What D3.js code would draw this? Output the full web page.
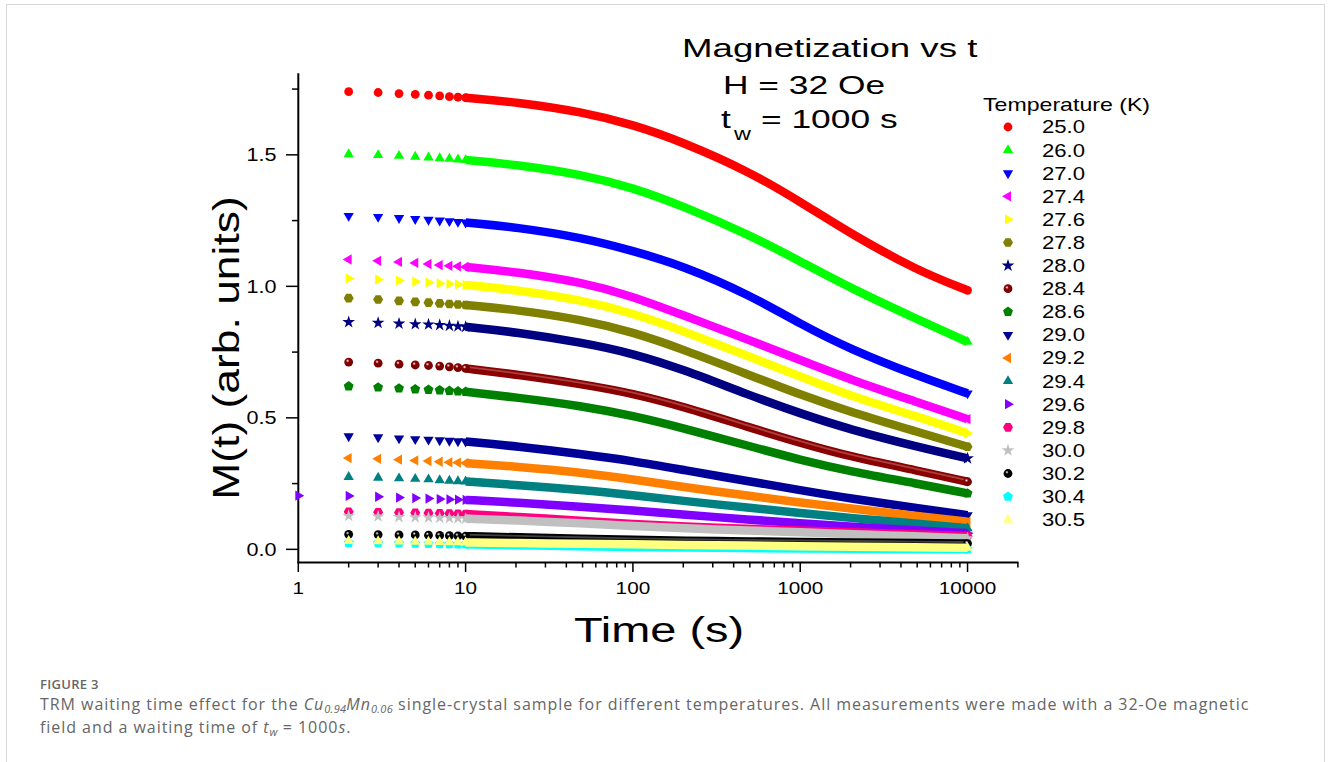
<!DOCTYPE html>
<html>
<head>
<meta charset="utf-8">
<script src="https://cdn.jsdelivr.net/npm/d3@7"></script>
<style>
  body { margin: 0; background: #fff; }
  #wrap { position: relative; width: 1330px; height: 762px; overflow: hidden; }
  #cap { position: absolute; left: 40px; top: 675px; font-family: "Open Sans", sans-serif; color: #666; }
  #cap .fig { font-size: 13px; font-weight: 600; letter-spacing: 0.3px; line-height: 18px; }
  #cap .txt { font-size: 16px; line-height: 23px; letter-spacing: 0.95px; }
  #cap sub { font-size: 11px; vertical-align: -3px; line-height: 0; letter-spacing: 0.3px; }
</style>
</head>
<body>
<div id="wrap">
  <svg id="chart" width="1330" height="762"></svg>
  <div id="cap">
    <div class="fig">FIGURE 3</div>
    <div class="txt">TRM waiting time effect for the <i>Cu<sub>0.94</sub>Mn<sub>0.06</sub></i> single-crystal sample for different temperatures. All measurements were made with a 32-Oe magnetic<br>field and a waiting time of <i>t<sub>w</sub></i> = 1000<i>s</i>.</div>
  </div>
</div>
<script>
// time points (s)
const times = [1, 2, 3, 4, 5, 6, 7, 8, 9, 10, 20, 50, 100, 200, 500, 1000, 2000, 5000, 10000];

const temps = ["25.0", "26.0", "27.0", "27.4", "27.6", "27.8", "28.0", "28.4", "28.6",
               "29.0", "29.2", "29.4", "29.6", "29.8", "30.0", "30.2", "30.4", "30.5"];

// M(t) in arb. units, one array per temperature
const m25_0 = [null, 1.740, 1.737, 1.733, 1.730, 1.727, 1.724, 1.721, 1.719, 1.717, 1.701, 1.663, 1.615, 1.548, 1.435, 1.322, 1.200, 1.060, 0.985];
const m26_0 = [null, 1.502, 1.499, 1.496, 1.493, 1.490, 1.487, 1.485, 1.482, 1.480, 1.463, 1.425, 1.375, 1.305, 1.195, 1.095, 0.993, 0.875, 0.789];
const m27_0 = [null, 1.268, 1.264, 1.260, 1.256, 1.253, 1.250, 1.248, 1.245, 1.243, 1.225, 1.185, 1.135, 1.078, 0.967, 0.857, 0.760, 0.660, 0.593];
const m27_4 = [null, 1.102, 1.097, 1.093, 1.089, 1.085, 1.081, 1.078, 1.076, 1.074, 1.055, 1.015, 0.962, 0.890, 0.795, 0.720, 0.645, 0.560, 0.495];
const m27_6 = [null, 1.030, 1.026, 1.022, 1.018, 1.015, 1.011, 1.009, 1.007, 1.005, 0.987, 0.947, 0.898, 0.830, 0.732, 0.657, 0.583, 0.505, 0.441];
const m27_8 = [null, 0.955, 0.950, 0.945, 0.941, 0.938, 0.935, 0.933, 0.931, 0.929, 0.911, 0.873, 0.826, 0.760, 0.662, 0.588, 0.522, 0.447, 0.390];
const m28_0 = [null, 0.864, 0.861, 0.858, 0.856, 0.855, 0.853, 0.850, 0.848, 0.846, 0.826, 0.786, 0.745, 0.684, 0.585, 0.517, 0.455, 0.390, 0.346];
const m28_4 = [null, 0.712, 0.708, 0.704, 0.701, 0.699, 0.697, 0.694, 0.691, 0.688, 0.665, 0.628, 0.593, 0.543, 0.463, 0.405, 0.352, 0.300, 0.257];
const m28_6 = [null, 0.620, 0.616, 0.612, 0.609, 0.607, 0.605, 0.603, 0.601, 0.599, 0.578, 0.545, 0.508, 0.461, 0.392, 0.340, 0.296, 0.250, 0.213];
const m29_0 = [null, 0.430, 0.426, 0.422, 0.419, 0.417, 0.415, 0.413, 0.411, 0.410, 0.392, 0.362, 0.336, 0.302, 0.258, 0.225, 0.193, 0.157, 0.130];
const m29_2 = [null, 0.347, 0.344, 0.341, 0.338, 0.336, 0.333, 0.331, 0.330, 0.328, 0.315, 0.292, 0.266, 0.237, 0.203, 0.178, 0.155, 0.127, 0.105];
const m29_4 = [null, 0.275, 0.272, 0.270, 0.268, 0.266, 0.263, 0.261, 0.259, 0.258, 0.245, 0.226, 0.206, 0.184, 0.158, 0.138, 0.119, 0.098, 0.080];
const m29_6 = [0.204, 0.203, 0.200, 0.197, 0.195, 0.193, 0.191, 0.190, 0.189, 0.188, 0.178, 0.162, 0.148, 0.132, 0.113, 0.099, 0.086, 0.072, 0.061];
const m29_8 = [null, 0.143, 0.141, 0.140, 0.139, 0.138, 0.137, 0.136, 0.135, 0.134, 0.124, 0.108, 0.096, 0.087, 0.078, 0.072, 0.065, 0.058, 0.050];
const m30_0 = [null, 0.127, 0.125, 0.123, 0.122, 0.121, 0.120, 0.119, 0.118, 0.117, 0.110, 0.099, 0.088, 0.080, 0.071, 0.065, 0.058, 0.050, 0.042];
const m30_2 = [null, 0.057, 0.056, 0.055, 0.055, 0.054, 0.053, 0.052, 0.051, 0.050, 0.046, 0.040, 0.036, 0.033, 0.030, 0.028, 0.026, 0.024, 0.022];
const m30_4 = [null, 0.025, 0.024, 0.023, 0.022, 0.021, 0.020, 0.020, 0.019, 0.019, 0.016, 0.012, 0.009, 0.007, 0.005, 0.003, 0.002, 0.001, 0.000];
const m30_5 = [null, 0.032, 0.031, 0.030, 0.029, 0.029, 0.028, 0.027, 0.027, 0.026, 0.024, 0.021, 0.019, 0.017, 0.014, 0.012, 0.010, 0.008, 0.006];

const yTicks = [0, 0.5, 1.0, 1.5];
const xTicks = [1, 10, 100, 1000, 10000];

// styles
const colors = ["#ff0000", "#00ff00", "#0000ff", "#ff00ff", "#ffff00", "#808000", "#000080", "#8b0000", "#008000",
                "#000099", "#ff8000", "#008080", "#8000ff", "#ff0080", "#c0c0c0", "#000000", "#00ffff", "#ffff80"];
const shapes = ["circle", "up", "down", "left", "right", "hexagon", "star", "sphere", "pentagon",
                "down", "left", "up", "right", "hexagon", "star", "sphere", "pentagon", "up"];

const allValues = [m25_0, m26_0, m27_0, m27_4, m27_6, m27_8, m28_0, m28_4, m28_6,
                   m29_0, m29_2, m29_4, m29_6, m29_8, m30_0, m30_2, m30_4, m30_5];

const series = temps.map((T, i) => ({
    T: T,
    color: colors[i],
    shape: shapes[i],
    points: times.map((t, j) => ({ t: t, v: allValues[i][j] })).filter(d => d.v !== null)
}));

const FONT = "'Liberation Sans', Arial, sans-serif";
const svg = d3.select("#chart");

// light frame around the figure
svg.append("rect")
    .attr("x", 6.5).attr("y", 4.5).attr("width", 1318).attr("height", 770)
    .attr("fill", "none").attr("stroke", "#d8d8d8").attr("stroke-width", 1);

const x = d3.scaleLog().domain([1, 20000]).range([298.3, 1017.9]);
const y = d3.scaleLinear().domain([-0.05, 1.81]).range([562.5, 73.3]);

// stretched text like the original (wide Origin font)
function label(parent, px, py, str, size, anchor, sx) {
    return parent.append("text")
        .attr("transform", `translate(${px},${py}) scale(${sx},1)`)
        .attr("font-family", FONT)
        .attr("font-size", size)
        .attr("text-anchor", anchor)
        .attr("fill", "#000")
        .text(str);
}

// gradients for the shaded "sphere" markers
const defs = svg.append("defs");
series.forEach((s, i) => {
    if (s.shape !== "sphere") return;
    const g = defs.append("radialGradient").attr("id", "sph" + i)
        .attr("cx", "38%").attr("cy", "35%").attr("r", "65%");
    g.append("stop").attr("offset", "0%").attr("stop-color", "#ffffff");
    g.append("stop").attr("offset", "30%").attr("stop-color", s.color);
    g.append("stop").attr("offset", "100%").attr("stop-color", d3.color(s.color).darker(0.6));
});

function polygon(n, r, start) {
    const pts = d3.range(n).map(k => {
        const a = start + k * 2 * Math.PI / n;
        return [r * Math.cos(a), r * Math.sin(a)];
    });
    return "M" + pts.map(p => p.join(",")).join("L") + "Z";
}

function markerPath(shape) {
    switch (shape) {
        case "circle":
        case "sphere": return d3.symbol(d3.symbolCircle, Math.PI * 4.4 * 4.4)();
        case "up": case "down": case "left": case "right":
            return d3.symbol(d3.symbolTriangle, 46)();
        case "star": return d3.symbol(d3.symbolStar, 50)();
        case "hexagon": return polygon(6, 5, 0);
        case "pentagon": return polygon(5, 5.2, -Math.PI / 2);
    }
}
const rotation = { up: 0, down: 180, left: -90, right: 90 };

function drawMarker(parent, s, i, px, py) {
    parent.append("path")
        .attr("d", markerPath(s.shape))
        .attr("transform", `translate(${px},${py}) rotate(${rotation[s.shape] || 0})`)
        .attr("fill", s.shape === "sphere" ? `url(#sph${i})` : s.color);
}

// axes
const axes = svg.append("g");
axes.append("line").attr("x1", 298.3).attr("x2", 298.3).attr("y1", 73.3).attr("y2", 562.5)
    .attr("stroke", "#000").attr("stroke-width", 2);
axes.append("line").attr("x1", 297.3).attr("x2", 1018.5).attr("y1", 562.5).attr("y2", 562.5)
    .attr("stroke", "#000").attr("stroke-width", 2);

// y ticks
[0.25, 0.75, 1.25, 1.75].forEach(v => {
    axes.append("line").attr("x1", 292).attr("x2", 298.3).attr("y1", y(v)).attr("y2", y(v))
        .attr("stroke", "#000").attr("stroke-width", 1.5);
});
yTicks.forEach(v => {
    axes.append("line").attr("x1", 286).attr("x2", 298.3).attr("y1", y(v)).attr("y2", y(v))
        .attr("stroke", "#000").attr("stroke-width", 1.5);
    label(axes, 276.5, y(v) + 6.6, d3.format(".1f")(v), 18, "end", 1.2);
});

// x ticks
const minor = [];
[1, 10, 100, 1000].forEach(dec => d3.range(2, 10).forEach(k => minor.push(dec * k)));
minor.push(20000);
minor.forEach(t => {
    axes.append("line").attr("x1", x(t)).attr("x2", x(t)).attr("y1", 562.5).attr("y2", 567.5)
        .attr("stroke", "#000").attr("stroke-width", 1.5);
});
xTicks.forEach(t => {
    axes.append("line").attr("x1", x(t)).attr("x2", x(t)).attr("y1", 562.5).attr("y2", 572)
        .attr("stroke", "#000").attr("stroke-width", 1.5);
    label(axes, x(t), 593.5, String(t), 17, "middle", 1.22);
});

// axis titles
label(svg, 659, 641.5, "Time (s)", 35, "middle", 1.34);
svg.append("text")
    .attr("transform", "translate(239,348) rotate(-90) scale(1.2,1)")
    .attr("font-family", FONT).attr("font-size", 37).attr("text-anchor", "middle")
    .text("M(t) (arb. units)");

// curves: thick band for the dense part, single markers at early times
const line = d3.line().x(d => x(d.t)).y(d => y(d.v)).curve(d3.curveBasis);
const plot = svg.append("g");
series.forEach((s, i) => {
    const g = plot.append("g");
    const dense = s.points.filter(d => d.t >= 10);
    g.append("path")
        .datum(dense)
        .attr("d", line)
        .attr("fill", "none")
        .attr("stroke", s.color)
        .attr("stroke-width", 8.5);
    if (s.shape === "sphere") {
        // highlight streak left by the shaded balls
        g.append("path")
            .datum(dense)
            .attr("d", line)
            .attr("transform", "translate(0,-1.5)")
            .attr("fill", "none")
            .attr("stroke", "#fff")
            .attr("stroke-opacity", 0.25)
            .attr("stroke-width", 1.8);
    }
    s.points.filter(d => d.t <= 10 || d.t === 10000)
        .forEach(d => drawMarker(g, s, i, x(d.t), y(d.v)));
});

// title block
label(svg, 682, 57, "Magnetization vs t", 26, "start", 1.41);
label(svg, 723, 94, "H = 32 Oe", 26, "start", 1.36);
label(svg, 721, 128, "t", 26, "start", 1.36);
label(svg, 734, 140, "w", 18, "start", 1.3);
label(svg, 761, 128, "= 1000 s", 26, "start", 1.36);

// legend
const legend = svg.append("g");
label(legend, 983, 110.7, "Temperature (K)", 18.5, "start", 1.25);
series.forEach((s, i) => {
    const ly = 127 + i * 23.1;
    drawMarker(legend, s, i, 1008, ly);
    label(legend, 1042, ly + 6.4, s.T, 17.7, "start", 1.25);
});
</script>
</body>
</html>
